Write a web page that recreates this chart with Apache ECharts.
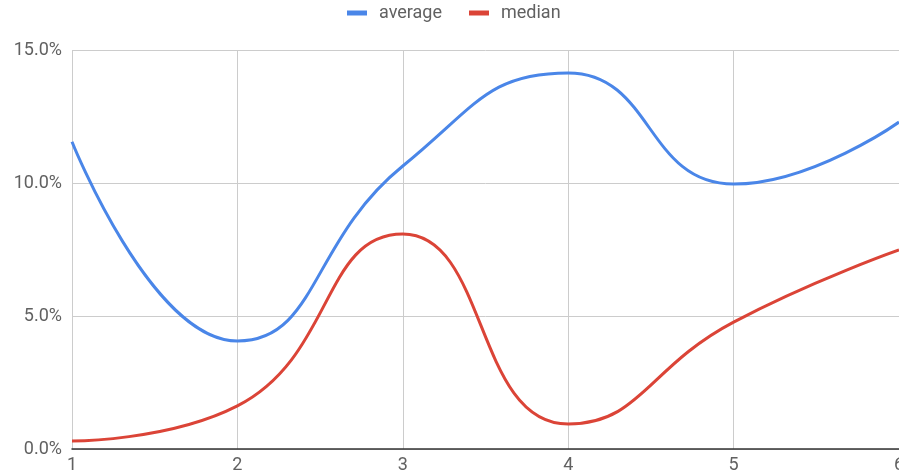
<!DOCTYPE html>
<html>
<head>
<meta charset="utf-8">
<script src="https://cdn.jsdelivr.net/npm/echarts@6/dist/echarts.min.js"></script>
<style>html,body{margin:0;padding:0;background:#fff;}#c{width:899px;height:476px;}</style>
</head>
<body>
<div id="c"></div>
<script>
const xValues = [1, 2, 3, 4, 5, 6];
const averageValues = [11.55, 4.06, 10.64, 14.14, 9.96, 12.29];
const medianValues = [0.3, 1.62, 8.08, 0.94, 4.77, 7.48];
const yTicks = [0, 5, 10, 15];

const chart = echarts.init(document.getElementById('c'));
const pairs = arr => xValues.map((x, i) => [x, arr[i]]);
chart.setOption({
  animation: false,
  textStyle: { fontFamily: 'Roboto' },
  legend: {
    top: 0, left: 342, itemWidth: 20, itemHeight: 5, itemGap: 27, icon: 'rect',
    padding: [4, 5, 5, 5],
    textStyle: { fontSize: 18, color: '#616161', fontFamily: 'Roboto', padding: [0, 0, 0, 7] },
    data: ['average', 'median']
  },
  grid: { left: 72, right: 0, top: 50, bottom: 27, containLabel: false, outerBoundsMode: 'none' },
  xAxis: {
    type: 'value', min: 1, max: 6, interval: 1,
    axisLine: { show: true, onZero: false, lineStyle: { color: '#333', width: 1.5 } },
    axisTick: { show: false },
    splitLine: { show: true, lineStyle: { color: '#ccc', width: 1 } },
    axisLabel: { fontSize: 18, color: '#616161', margin: 7, showMaxLabel: true, showMinLabel: true, hideOverlap: false }
  },
  yAxis: {
    type: 'value', min: yTicks[0], max: yTicks[yTicks.length - 1], interval: 5,
    axisLine: { show: false }, axisTick: { show: false },
    splitLine: { lineStyle: { color: '#ccc', width: 1 } },
    axisLabel: { fontSize: 18, color: '#616161', margin: 10, formatter: v => v.toFixed(1) + '%' }
  },
  series: [
    { name: 'average', type: 'line', smooth: 0.5, showSymbol: false, data: pairs(averageValues),
      lineStyle: { width: 3, color: '#4a86e8' }, itemStyle: { color: '#4a86e8' } },
    { name: 'median', type: 'line', smooth: 0.5, showSymbol: false, data: pairs(medianValues),
      lineStyle: { width: 3, color: '#db4437' }, itemStyle: { color: '#db4437' } }
  ]
});
</script>
</body>
</html>
